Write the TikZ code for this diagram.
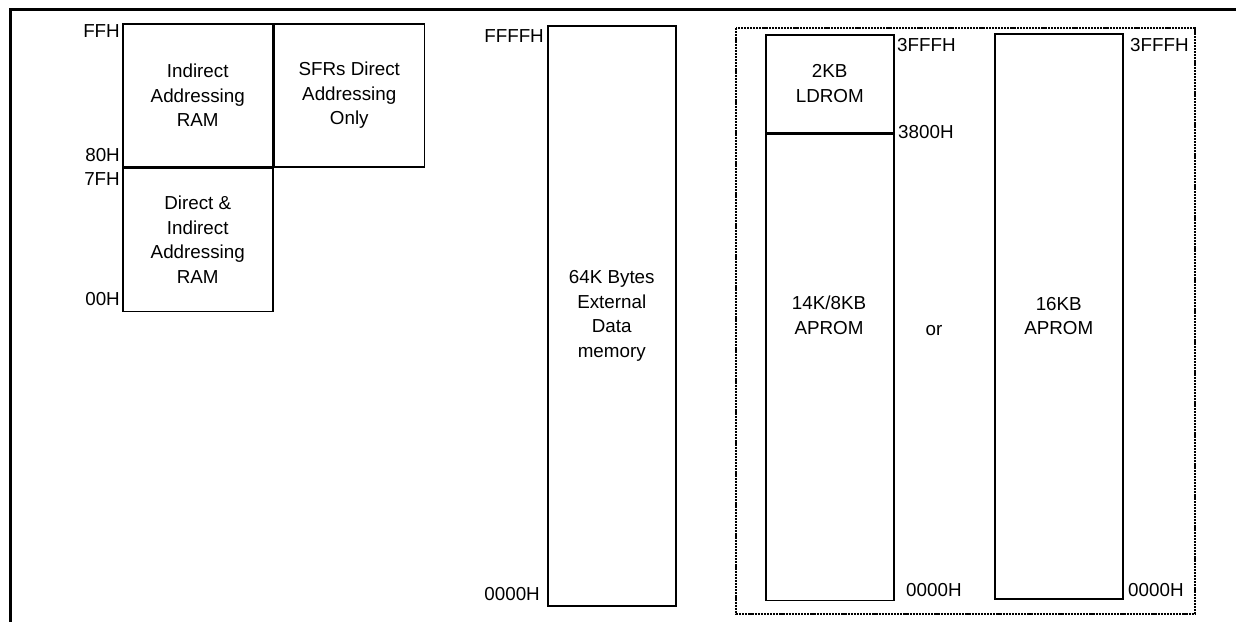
\documentclass[tikz,border=0pt]{standalone}
\usepackage{fontspec}
\setmainfont{Liberation Sans}
\usepackage{tikz}
\usetikzlibrary{positioning}

\begin{document}
\begin{tikzpicture}[
  x=1pt, y=-1pt,
  font=\fontsize{18.8}{24.5}\selectfont,
  mem/.style={draw, line width=1.5pt, inner sep=0pt, align=center, anchor=north west},
  addr/.style={inner sep=0pt},
  txt/.style={inner sep=0pt, align=center},
  frame/.style={line width=3pt},
  optbox/.style={line width=2.4pt, dash pattern=on 2.2pt off 0.9pt},
]
\useasboundingbox (0,0) rectangle (1236,622);
% page frame
\draw[frame] (10,9) -- (1236,9);
\draw[frame] (10,8) -- (10,622);

% internal RAM and SFRs
\node[mem, minimum width=150, minimum height=143] (ind) at (122,23) {Indirect\\Addressing\\RAM};
\node[mem, minimum width=150, minimum height=143] (sfr) at (ind.north east) {SFRs Direct\\Addressing\\Only};
\node[mem, minimum width=150, minimum height=143] (dir) at (ind.south west) {Direct \&\\Indirect\\Addressing\\RAM};
\node[addr, anchor=base east] (ffh) at (120,37) {FFH};
\node[addr, anchor=base east] (h80) at (120,161) {80H};
\node[addr, anchor=base east] (h7f) at (120,185) {7FH};
\node[addr, anchor=base east] (h00) at (120,305) {00H};

% external data memory
\node[mem, minimum width=128, minimum height=580] (xram) at (547,25) {64K Bytes\\External\\Data\\memory};
\node[addr, anchor=base east] (xtop) at (544,42) {FFFFH};
\node[addr, anchor=base east] (xbot) at (540,600) {0000H};

% program memory options
\draw[optbox] (736,28) rectangle (1195,614);
\node[mem, minimum width=128, minimum height=98] (ldrom) at (765,34) {2KB\\LDROM};
\node[mem, minimum width=128, minimum height=466] (aprom) at (ldrom.south west) {};
\node[txt, anchor=north] (apromtxt) at (829,296) {14K/8KB\\APROM};
\node[txt, anchor=base] (or) at (934,335) {or};
\node[mem, minimum width=128, minimum height=565] (full) at (994,33) {16KB\\APROM};
\node[addr, anchor=base west] (ltop) at (897,51) {3FFFH};
\node[addr, anchor=base west] (lmid) at (898,138) {3800H};
\node[addr, anchor=base west] (lbot) at (906,596) {0000H};
\node[addr, anchor=base west] (ftop) at (1130,51) {3FFFH};
\node[addr, anchor=base west] (fbot) at (1128,596) {0000H};
\end{tikzpicture}
\end{document}
